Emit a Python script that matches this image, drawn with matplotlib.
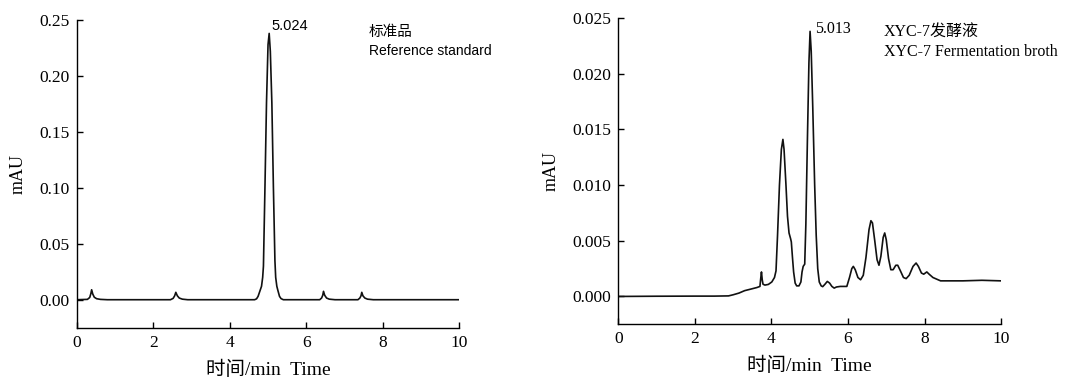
import numpy as np
import matplotlib
matplotlib.use("Agg")
import matplotlib.pyplot as plt

plt.rcParams['font.family'] = ['Liberation Serif', 'Noto Sans CJK SC']
plt.rcParams['axes.linewidth'] = 1.0

# 标准品 chromatogram (time min, signal mAU)
t_std = [0.0, 0.28, 0.34, 0.37, 0.39, 0.42, 0.46, 0.52, 0.62, 0.80,
         2.45, 2.52, 2.56, 2.59, 2.63, 2.68, 2.76, 2.90,
         4.65, 4.70, 4.74, 4.79, 4.83, 4.86, 4.88, 4.92, 4.96, 5.00, 5.03,
         5.06, 5.10, 5.14, 5.18, 5.20, 5.23, 5.26, 5.30, 5.34, 5.40,
         6.35, 6.40, 6.43, 6.45, 6.48, 6.53, 6.60, 6.75,
         7.35, 7.40, 7.43, 7.45, 7.48, 7.53, 7.60, 7.75, 10.0]
y_std = [0.0, 0.0003, 0.002, 0.0055, 0.0089, 0.0050, 0.0022, 0.0009, 0.0003, 0.0,
         0.0, 0.0012, 0.0035, 0.0066, 0.0035, 0.0015, 0.0005, 0.0,
         0.0, 0.0008, 0.003, 0.008, 0.012, 0.020, 0.030, 0.101, 0.176, 0.228, 0.238,
         0.222, 0.176, 0.101, 0.035, 0.020, 0.012, 0.008, 0.003, 0.001, 0.0,
         0.0, 0.0015, 0.004, 0.0075, 0.004, 0.0015, 0.0005, 0.0,
         0.0, 0.0015, 0.0035, 0.0066, 0.0035, 0.0015, 0.0005, 0.0, 0.0]

# XYC-7 发酵液 chromatogram
t_fer = [0.0, 1.0, 2.0, 2.5, 2.88, 3.0, 3.15, 3.3, 3.45, 3.62, 3.70,
         3.72, 3.74, 3.76, 3.78, 3.83, 3.92, 4.01, 4.08, 4.12, 4.16, 4.21,
         4.26, 4.30, 4.33, 4.38, 4.42, 4.46, 4.50, 4.52, 4.55, 4.58, 4.62,
         4.66, 4.72, 4.77, 4.80, 4.83, 4.87, 4.90, 4.94, 4.98, 5.01, 5.04,
         5.08, 5.13, 5.17, 5.21, 5.25, 5.30, 5.34, 5.40, 5.46, 5.52, 5.58,
         5.64, 5.70, 5.80, 5.97, 6.04, 6.10, 6.14, 6.19, 6.26, 6.33, 6.40,
         6.47, 6.55, 6.60, 6.64, 6.70, 6.76, 6.81, 6.86, 6.92, 6.96, 7.00,
         7.06, 7.12, 7.18, 7.25, 7.30, 7.37, 7.45, 7.52, 7.60, 7.70, 7.78,
         7.84, 7.92, 7.98, 8.06, 8.12, 8.22, 8.32, 8.42, 9.0, 9.5, 10.0]
y_fer = [0.0, 0.00002, 0.00003, 0.00003, 0.00005, 0.00015, 0.0003, 0.00052, 0.00065, 0.0008, 0.0009,
         0.0016, 0.0022, 0.0015, 0.0011, 0.00102, 0.00108, 0.0013, 0.0017, 0.0023, 0.0055, 0.0100,
         0.0132, 0.0141, 0.0132, 0.0100, 0.0072, 0.0057, 0.0052, 0.0049, 0.0035, 0.0022, 0.0012,
         0.00095, 0.00095, 0.0013, 0.0022, 0.0027, 0.0029, 0.0065, 0.0140, 0.0210, 0.0238, 0.0220,
         0.0170, 0.0100, 0.0055, 0.0025, 0.0013, 0.00095, 0.00088, 0.0011, 0.00135, 0.0012, 0.0009,
         0.00075, 0.00085, 0.0009, 0.0009, 0.0017, 0.0025, 0.0027, 0.0024, 0.0017, 0.0015, 0.0019,
         0.0035, 0.0060, 0.0068, 0.0066, 0.0050, 0.0033, 0.0028, 0.0036, 0.0053, 0.0057, 0.0051,
         0.0034, 0.0024, 0.0024, 0.0028, 0.0028, 0.0023, 0.0017, 0.0016, 0.0019, 0.0027, 0.0030,
         0.0027, 0.0021, 0.0020, 0.0022, 0.0020, 0.0017, 0.00155, 0.0014, 0.0014, 0.00145, 0.0014]

x_ticks = [0, 2, 4, 6, 8, 10]
y_ticks_std = [0.00, 0.05, 0.10, 0.15, 0.20, 0.25]
y_ticks_fer = [0.000, 0.005, 0.010, 0.015, 0.020, 0.025]

fig = plt.figure(figsize=(10.67, 3.77), dpi=100)
ax1 = fig.add_axes([0.0719, 0.1308, 0.3586, 0.8162])
ax2 = fig.add_axes([0.5795, 0.1398, 0.3587, 0.8125])


def style(ax, yticks, fmt):
    ax.spines['top'].set_visible(False)
    ax.spines['right'].set_visible(False)
    ax.set_xlim(0, 10)
    ax.set_xticks(x_ticks)
    ax.set_yticks(yticks)
    ax.set_yticklabels([fmt.format(v) for v in yticks])
    ax.tick_params(direction='in', length=4, width=1, labelsize=12.5, pad=5)
    ax.set_xlabel('时间/min  Time', fontsize=14, labelpad=7)
    ax.set_ylabel('mAU', fontsize=13, labelpad=9)


ax1.plot(t_std, y_std, color='#111111', lw=1.2)
ax1.set_ylim(-0.025, 0.25)
style(ax1, y_ticks_std, '{:.2f}')
ax1.text(5.08, 0.245, '5.024', family='Liberation Sans', fontsize=10.5, va='center', ha='left')
ax1.text(0.764, 0.961, '标准品', transform=ax1.transAxes, family=['Noto Sans CJK SC'],
         fontsize=10.5, va='center', ha='left')
ax1.text(0.764, 0.899, 'Reference standard', transform=ax1.transAxes, family='Liberation Sans',
         fontsize=10, va='center', ha='left')

ax2.plot(t_fer, y_fer, color='#111111', lw=1.2)
ax2.set_ylim(-0.0025, 0.025)
style(ax2, y_ticks_fer, '{:.3f}')
ax2.text(5.14, 0.0240, '5.013', fontsize=11.5, va='center', ha='left')
ax2.text(0.694, 0.951, 'XYC-7发酵液', transform=ax2.transAxes,
         fontsize=11.5, va='center', ha='left')
ax2.text(0.694, 0.889, 'XYC-7 Fermentation broth', transform=ax2.transAxes,
         fontsize=11.5, va='center', ha='left')

fig.savefig('out.png', dpi=100)
